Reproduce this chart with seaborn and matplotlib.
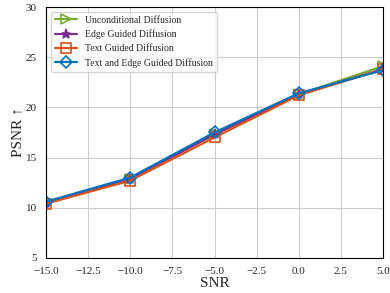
import pandas as pd
import seaborn as sns
import matplotlib.pyplot as plt

snr = [-15, -10, -5, 0, 5]
uncond = [10.5, 12.9, 17.3, 21.3, 24.1]
edge = [10.5, 12.9, 17.3, 21.3, 23.8]
text = [10.4, 12.7, 17.0, 21.2, 23.8]
text_edge = [10.6, 13.0, 17.5, 21.4, 23.7]

names = ['Unconditional Diffusion', 'Edge Guided Diffusion',
         'Text Guided Diffusion', 'Text and Edge Guided Diffusion']
series = [uncond, edge, text, text_edge]

rows = []
for name, vals in zip(names, series):
    for s, v in zip(snr, vals):
        rows.append({'SNR': s, 'PSNR': v, 'method': name})
df = pd.DataFrame(rows)

sns.set_style('whitegrid')
plt.rcParams['font.family'] = ['Liberation Serif', 'DejaVu Serif']
plt.rcParams['axes.edgecolor'] = 'black'

colors = ['#77AC30', '#7E2F8E', '#D95319', '#0072BD']
markers = ['>', '*', 's', 'D']

fig = plt.figure(figsize=(3.9, 2.93), dpi=100)
ax = fig.add_axes([0.118, 0.12, 0.864, 0.856])
for name, c, m in zip(names, colors, markers):
    sub = df[df['method'] == name]
    face = c if m == '*' else 'none'
    sns.lineplot(data=sub, x='SNR', y='PSNR', ax=ax, color=c, marker=m,
                 markersize=6.5, markerfacecolor=face, markeredgecolor=c,
                 markeredgewidth=1.2, linewidth=1.6, label=name)

ax.set_xlim(-15, 5)
ax.set_ylim(5, 30)
ax.set_xticks([-15, -12.5, -10, -7.5, -5, -2.5, 0, 2.5, 5])
ax.set_xticklabels(['\u221215.0', '\u221212.5', '\u221210.0', '\u22127.5', '\u22125.0',
                    '\u22122.5', '0.0', '2.5', '5.0'])
ax.tick_params(labelsize=8, length=3, color='black', direction='out')
ax.set_xlabel('SNR', fontsize=11, labelpad=1)
ax.set_ylabel('PSNR \u2191', fontsize=11, labelpad=1)
for sp in ax.spines.values():
    sp.set_color('black')
    sp.set_linewidth(0.8)
ax.grid(color='#cccccc', linewidth=0.8)
ax.legend(loc='upper left', fontsize=7, frameon=True, handlelength=2.3)
fig.savefig('out.png', dpi=100)
